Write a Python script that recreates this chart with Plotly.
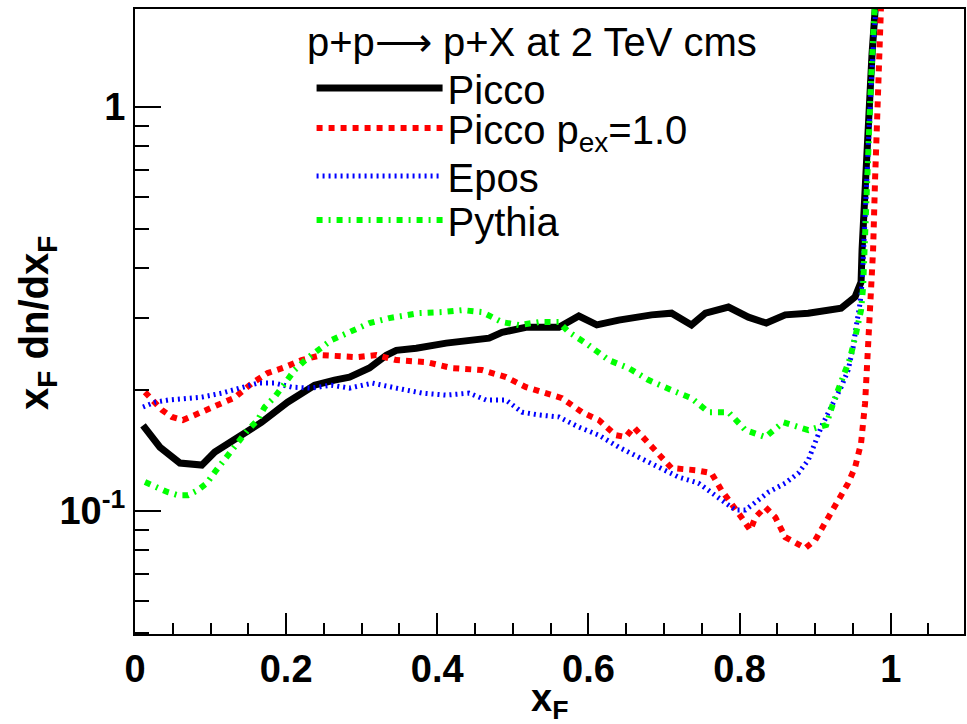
import plotly.graph_objects as go

# ---- data (x_F, x_F dn/dx_F) ----
picco_x = [0.0106, 0.033, 0.0594, 0.0884, 0.1056, 0.132, 0.1676, 0.2019, 0.2376, 0.264,
           0.2838, 0.3102, 0.3326, 0.3458, 0.3722, 0.4118, 0.4461, 0.4685, 0.4857, 0.5174,
           0.5609, 0.5873, 0.6111, 0.6401, 0.6836, 0.71, 0.7364, 0.7549, 0.7853, 0.8117,
           0.8354, 0.8605, 0.8909, 0.9344, 0.9529, 0.9608, 0.9621, 0.9661, 0.9714, 0.9753,
           0.9793, 0.9832]
picco_y = [0.163, 0.144, 0.1315, 0.130, 0.140, 0.150, 0.166, 0.186, 0.205, 0.211,
           0.2146, 0.226, 0.243, 0.250, 0.253, 0.2605, 0.265, 0.268, 0.277, 0.285,
           0.285, 0.304, 0.289, 0.297, 0.306, 0.309, 0.289, 0.309, 0.320, 0.302,
           0.292, 0.306, 0.309, 0.318, 0.339, 0.369, 0.443, 0.663, 1.0, 1.353,
           1.728, 2.31]

pex_x = [0.0132, 0.0264, 0.0356, 0.0488, 0.0634, 0.0792, 0.1056, 0.132, 0.1544, 0.1755,
         0.198, 0.2204, 0.2468, 0.293, 0.3194, 0.3458, 0.3854, 0.4197, 0.4593, 0.491,
         0.5174, 0.5385, 0.5649, 0.5913, 0.6137, 0.6361, 0.6493, 0.6599, 0.6757, 0.6929,
         0.71, 0.7417, 0.7628, 0.776, 0.7892, 0.8024, 0.8143, 0.8209, 0.8341, 0.8473,
         0.8605, 0.8737, 0.8869, 0.9001, 0.9133, 0.9304, 0.9437, 0.9529, 0.9608, 0.9661,
         0.9687, 0.9714, 0.974, 0.9767, 0.9793, 0.982, 0.9846, 0.9885]
pex_y = [0.197, 0.186, 0.178, 0.171, 0.168, 0.173, 0.181, 0.191, 0.207, 0.2196,
         0.227, 0.2365, 0.2433, 0.2405, 0.2433, 0.2365, 0.2338, 0.2259, 0.2234, 0.2146,
         0.2027, 0.197, 0.1904, 0.1758, 0.168, 0.1542, 0.1525, 0.1614, 0.1499, 0.1392,
         0.1278, 0.1263, 0.1242, 0.1127, 0.1047, 0.0966, 0.0897, 0.0966, 0.1023, 0.0966,
         0.0862, 0.0833, 0.081, 0.0848, 0.0934, 0.1065, 0.1173, 0.1285, 0.1473, 0.185,
         0.2234, 0.2696, 0.333, 0.4426, 0.66, 1.0, 1.465, 2.1]

epos_x = [0.0106, 0.0264, 0.0436, 0.066, 0.0884, 0.1148, 0.1412, 0.1623, 0.1848, 0.2072,
          0.2336, 0.26, 0.2838, 0.3141, 0.3458, 0.3801, 0.4118, 0.4421, 0.4646, 0.491,
          0.5121, 0.5345, 0.5609, 0.5873, 0.6137, 0.6401, 0.6665, 0.6929, 0.7193, 0.7457,
          0.7628, 0.7813, 0.7945, 0.8077, 0.8209, 0.8381, 0.8605, 0.8777, 0.8909, 0.9001,
          0.908, 0.9212, 0.9344, 0.9437, 0.9503, 0.9542, 0.9595, 0.9621, 0.9648, 0.9687,
          0.9727, 0.9767, 0.9806, 0.9846]
epos_y = [0.181, 0.186, 0.1883, 0.1904, 0.1915, 0.1959, 0.2016, 0.2074, 0.2074, 0.2027,
          0.2016, 0.205, 0.2016, 0.2074, 0.2016, 0.1959, 0.1937, 0.1959, 0.1883, 0.1883,
          0.1758, 0.173, 0.171, 0.1614, 0.1542, 0.144, 0.136, 0.1285, 0.1214, 0.1173,
          0.1108, 0.1047, 0.1006, 0.1006, 0.1053, 0.1114, 0.1173, 0.1242, 0.1337, 0.1473,
          0.1614, 0.181, 0.2027, 0.2234, 0.2546, 0.2854, 0.3272, 0.3667, 0.496, 0.698,
          1.0, 1.384, 1.789, 2.31]

pythia_x = [0.0132, 0.0264, 0.0436, 0.0568, 0.07, 0.0831, 0.095, 0.1056, 0.1161, 0.132,
            0.1491, 0.1623, 0.1716, 0.1848, 0.194, 0.2112, 0.2283, 0.2468, 0.26, 0.2838,
            0.3102, 0.3365, 0.3761, 0.4065, 0.4329, 0.4593, 0.4857, 0.5081, 0.5345, 0.5609,
            0.5741, 0.5965, 0.6269, 0.6533, 0.6797, 0.71, 0.7364, 0.7589, 0.7853, 0.8077,
            0.8341, 0.8579, 0.8777, 0.8909, 0.9041, 0.9146, 0.9238, 0.9344, 0.9463, 0.9542,
            0.9608, 0.9635, 0.9661, 0.970, 0.974, 0.978, 0.982]
pythia_y = [0.118, 0.1147, 0.1114, 0.1095, 0.1095, 0.1127, 0.1173, 0.1249, 0.1322, 0.144,
            0.1587, 0.168, 0.181, 0.1915, 0.2027, 0.2234, 0.2392, 0.2532, 0.265, 0.2774,
            0.292, 0.3004, 0.3091, 0.3109, 0.3144, 0.3109, 0.2937, 0.2887, 0.2937, 0.2937,
            0.2774, 0.2605, 0.2365, 0.2259, 0.211, 0.1993, 0.1904, 0.1758, 0.1758, 0.1587,
            0.1525, 0.166, 0.1614, 0.1587, 0.1614, 0.1633, 0.185, 0.2086, 0.2392, 0.2758,
            0.3144, 0.3585, 0.496, 0.783, 1.166, 1.642, 2.18]

series_names = ["Picco", "Picco p<sub>ex</sub>=1.0", "Epos", "Pythia"]
legend_header = "p+p\u27f6 p+X at 2 TeV cms"

y_tickvals = [0.1, 1]
y_ticktext = ["10<sup>-1</sup>", "1"]
y_minor = [0.05, 0.06, 0.07, 0.08, 0.09, 0.2, 0.3, 0.4, 0.5, 0.6, 0.7, 0.8, 0.9]
x_tickvals = [0, 0.2, 0.4, 0.6, 0.8, 1.0]
x_ticktext = ["0", "0.2", "0.4", "0.6", "0.8", "1"]

FONT = "Liberation Sans, Arial, Helvetica, sans-serif"
LEG_SIZE = 40

fig = go.Figure()
fig.add_trace(go.Scatter(x=picco_x, y=picco_y, mode="lines", name=series_names[0],
                         legend="legend",
                         line=dict(color="black", width=7)))
fig.add_trace(go.Scatter(x=pex_x, y=pex_y, mode="lines", name=series_names[1],
                         legend="legend2",
                         line=dict(color="#ff0000", width=6, dash="6px,6px")))
fig.add_trace(go.Scatter(x=epos_x, y=epos_y, mode="lines", name=series_names[2],
                         legend="legend3",
                         line=dict(color="#0000ff", width=5, dash="2px,4px")))
fig.add_trace(go.Scatter(x=pythia_x, y=pythia_y, mode="lines", name=series_names[3],
                         legend="legend4",
                         line=dict(color="#00ff00", width=6, dash="6px,6px,2px,6px")))


def leg(yc):
    return dict(x=0.213, y=yc, xanchor="left", yanchor="middle",
                bgcolor="rgba(0,0,0,0)", borderwidth=0,
                font=dict(family=FONT, size=LEG_SIZE, color="black"),
                itemwidth=126)


fig.update_layout(
    width=967, height=724,
    margin=dict(l=135, r=1, t=9, b=90),
    paper_bgcolor="white", plot_bgcolor="white",
    font=dict(family=FONT, color="black"),
    showlegend=True,
    legend=leg(0.8736),
    legend2=leg(0.8096),
    legend3=leg(0.7328),
    legend4=leg(0.6624),
    xaxis=dict(
        range=[0, 1.097], showgrid=False, zeroline=False,
        showline=True, linecolor="black", linewidth=2, mirror=True,
        ticks="inside", ticklen=21, tickwidth=2, tickcolor="black",
        tickmode="array", tickvals=x_tickvals, ticktext=x_ticktext,
        tickfont=dict(family=FONT, size=38, color="black", weight="bold"),
        minor=dict(tickmode="linear", tick0=0, dtick=0.05, ticks="inside",
                   ticklen=11, tickwidth=2, tickcolor="black", showgrid=False),
    ),
    yaxis=dict(
        type="log", range=[-1.304, 0.2426], showgrid=False, zeroline=False,
        showline=True, linecolor="black", linewidth=2, mirror=True,
        ticks="inside", ticklen=26, tickwidth=2, tickcolor="black",
        tickmode="array", tickvals=y_tickvals, ticktext=y_ticktext,
        tickfont=dict(family=FONT, size=38, color="black", weight="bold"),
        minor=dict(tickmode="array", tickvals=y_minor, ticks="inside",
                   ticklen=14, tickwidth=2, tickcolor="black", showgrid=False),
    ),
)

fig.add_annotation(text=legend_header, xref="paper", yref="paper",
                   x=0.205, y=0.9472, xanchor="left", yanchor="middle", showarrow=False,
                   font=dict(family=FONT, size=LEG_SIZE, color="black"))
fig.add_annotation(text="x<sub>F</sub>", xref="paper", yref="paper",
                   x=0.5, y=-0.066, xanchor="center", yanchor="top", showarrow=False,
                   font=dict(family=FONT, size=38, color="black", weight="bold"))
fig.add_annotation(text="x<sub>F</sub> dn/dx<sub>F</sub>", xref="paper", yref="paper",
                   x=-0.118, y=0.498, xanchor="center", yanchor="middle", showarrow=False,
                   textangle=-90,
                   font=dict(family=FONT, size=40, color="black", weight="bold"))

fig.write_html("out.html")
